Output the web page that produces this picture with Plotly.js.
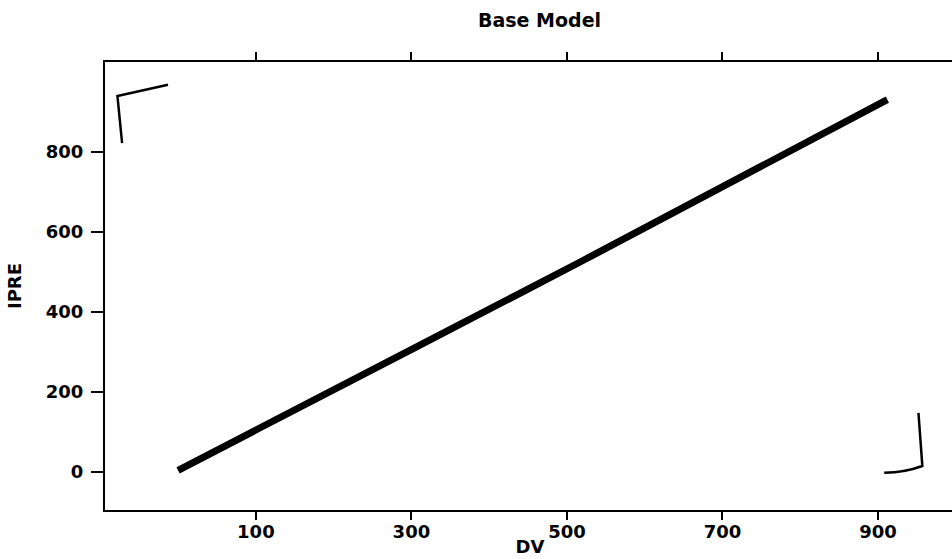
<!DOCTYPE html>
<html>
<head>
<meta charset="utf-8">
<script src="https://cdn.plot.ly/plotly-3.0.1.min.js"></script>
<style>
html,body{margin:0;padding:0;overflow:hidden;background:#fff;width:952px;height:559px;}
#chart{width:960px;height:559px;}
</style>
</head>
<body>
<div id="chart"></div>
<script>
// Data (DV vs IPRE, near-identity line)
const dv   = [0, 100, 517, 912];
const ipre = [3, 104, 524, 930];
const xTicks = [100, 300, 500, 700, 900];
const yTicks = [0, 200, 400, 600, 800];

const font = {family: 'DejaVu Sans, Arial, sans-serif', size: 18, color: '#000', weight: 'bold'};

const trace = {
  x: dv, y: ipre, type: 'scatter', mode: 'lines',
  line: {color: '#000', width: 7, shape: 'spline', smoothing: 0.6},
  hoverinfo: 'skip', showlegend: false
};

const layout = {
  width: 960, height: 559,
  margin: {l: 105, r: 5, t: 62, b: 49},
  paper_bgcolor: '#fff', plot_bgcolor: '#fff',
  title: {text: 'Base Model', font: Object.assign({}, font, {size: 19}), x: 0.562, xanchor: 'center', y: 0.963, yanchor: 'middle'},
  xaxis: {
    range: [-94, 999], tickvals: xTicks, ticktext: xTicks.map(String),
    ticks: 'outside', ticklen: 8, tickwidth: 2, tickcolor: '#000',
    showline: true, linewidth: 2, linecolor: '#000', mirror: 'allticks',
    showgrid: false, zeroline: false, tickfont: font, ticklabelstandoff: -4,
    title: {text: 'DV', font: font, standoff: 0}
  },
  yaxis: {
    range: [-96, 1024], tickvals: yTicks, ticktext: yTicks.map(String),
    ticks: 'outside', ticklen: 12, tickwidth: 2, tickcolor: '#000',
    showline: true, linewidth: 2, linecolor: '#000', mirror: 'allticks',
    showgrid: false, zeroline: false, tickfont: font, ticklabelstandoff: 4,
    title: {text: 'IPRE', font: font, standoff: 20}
  },
  shapes: [
    {type: 'path', xref: 'x', yref: 'y', path: 'M -72 821 L -78 939 L -13 967', line: {color: '#000', width: 2.5}},
    {type: 'path', xref: 'x', yref: 'y', path: 'M 952 147 L 957 14 Q 935 -2 908 -3', line: {color: '#000', width: 2.5}}
  ]
};

Plotly.newPlot('chart', [trace], layout, {displayModeBar: false, staticPlot: true});
</script>
</body>
</html>
